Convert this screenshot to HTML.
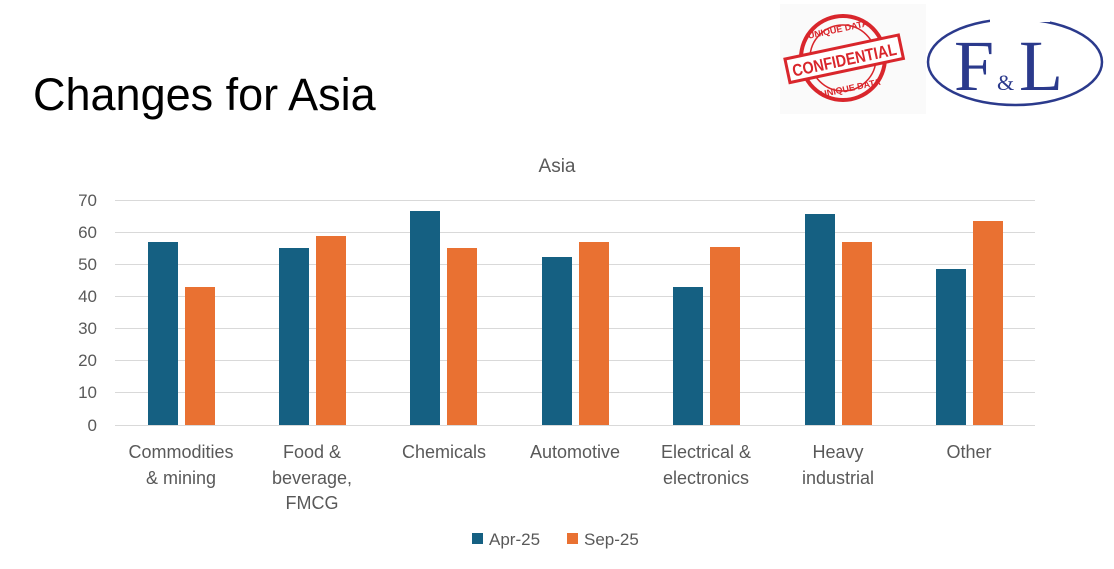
<!DOCTYPE html>
<html><head><meta charset="utf-8"><style>
html,body{margin:0;padding:0;background:#fff;width:1114px;height:569px;overflow:hidden}
svg{display:block}
</style></head><body>
<svg width="1114" height="569" viewBox="0 0 1114 569" style="font-family:'Liberation Sans',Arial,sans-serif">
<rect x="780" y="4" width="146" height="110" fill="#fafafa"/>
<g fill="none" stroke="#d9262c">
<circle cx="843" cy="58" r="42" stroke-width="4"/>
<circle cx="843" cy="58" r="33" stroke-width="1.5"/>
</g>
<g transform="rotate(-12 843 58)">
<rect x="786" y="47" width="116" height="24" fill="#fff" stroke="#d9262c" stroke-width="3"/>
<text x="844" y="66" font-size="17" font-weight="bold" fill="#d9262c" text-anchor="middle" textLength="106" lengthAdjust="spacingAndGlyphs">CONFIDENTIAL</text>
<text x="844" y="32" font-size="9" font-weight="bold" fill="#d9262c" text-anchor="middle">UNIQUE DATA</text>
<text x="844" y="92" font-size="9" font-weight="bold" fill="#d9262c" text-anchor="middle">UNIQUE DATA</text>
</g>
<ellipse cx="1015" cy="62" rx="87" ry="43" fill="none" stroke="#2b3a8c" stroke-width="2.5"/>
<rect x="990" y="12" width="60" height="10" fill="#fff"/>
<g style="font-family:'Liberation Serif','Times New Roman',serif" fill="#2b3a8c">
<text x="954" y="90" font-size="72">F</text>
<text x="1019" y="90" font-size="72">L</text>
<text x="997" y="90" font-size="22">&amp;</text>
</g>
<text x="33" y="110" font-size="45" fill="#000">Changes for Asia</text>
<text x="557" y="172" font-size="19" fill="#595959" text-anchor="middle">Asia</text>
<g stroke="#d9d9d9" stroke-width="1">
<line x1="115" x2="1035" y1="200.5" y2="200.5"/><line x1="115" x2="1035" y1="232.5" y2="232.5"/>
<line x1="115" x2="1035" y1="264.5" y2="264.5"/><line x1="115" x2="1035" y1="296.5" y2="296.5"/>
<line x1="115" x2="1035" y1="328.5" y2="328.5"/><line x1="115" x2="1035" y1="360.5" y2="360.5"/>
<line x1="115" x2="1035" y1="392.5" y2="392.5"/><line x1="115" x2="1035" y1="425.5" y2="425.5"/>
</g>
<g font-size="17" fill="#595959" text-anchor="end">
<text x="97" y="206">70</text><text x="97" y="238">60</text><text x="97" y="270">50</text><text x="97" y="302">40</text>
<text x="97" y="334">30</text><text x="97" y="366">20</text><text x="97" y="398">10</text><text x="97" y="431">0</text>
</g>
<g fill="#156082">
<rect x="148" y="242" width="30" height="183"/><rect x="279" y="248" width="30" height="177"/>
<rect x="410" y="211" width="30" height="214"/><rect x="542" y="257" width="30" height="168"/>
<rect x="673" y="287" width="30" height="138"/><rect x="805" y="214" width="30" height="211"/>
<rect x="936" y="269" width="30" height="156"/>
</g>
<g fill="#e97132">
<rect x="185" y="287" width="30" height="138"/><rect x="316" y="236" width="30" height="189"/>
<rect x="447" y="248" width="30" height="177"/><rect x="579" y="242" width="30" height="183"/>
<rect x="710" y="247" width="30" height="178"/><rect x="842" y="242" width="30" height="183"/>
<rect x="973" y="221" width="30" height="204"/>
</g>
<g font-size="18" fill="#595959" text-anchor="middle">
<text x="181" y="458">Commodities</text><text x="181" y="484">&amp; mining</text>
<text x="312" y="458">Food &amp;</text><text x="312" y="484">beverage,</text><text x="312" y="509">FMCG</text>
<text x="444" y="458">Chemicals</text>
<text x="575" y="458">Automotive</text>
<text x="706" y="458">Electrical &amp;</text><text x="706" y="484">electronics</text>
<text x="838" y="458">Heavy</text><text x="838" y="484">industrial</text>
<text x="969" y="458">Other</text>
</g>
<rect x="472" y="533" width="11" height="11" fill="#156082"/>
<text x="489" y="545" font-size="17" fill="#595959">Apr-25</text>
<rect x="567" y="533" width="11" height="11" fill="#e97132"/>
<text x="584" y="545" font-size="17" fill="#595959">Sep-25</text>
</svg>
</body></html>
